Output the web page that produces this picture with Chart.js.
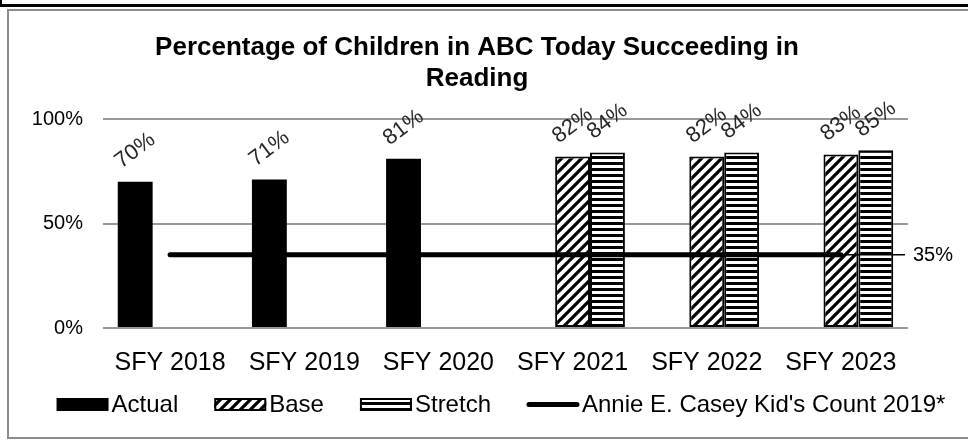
<!DOCTYPE html>
<html><head><meta charset="utf-8">
<script src="https://cdn.jsdelivr.net/npm/chart.js@4/dist/chart.umd.min.js"></script>
<style>
html,body{margin:0;padding:0;background:#fff;}
#wrap{position:relative;width:968px;height:441px;overflow:hidden;background:#fff;}
#hdr{position:absolute;left:0;top:-2px;width:980px;height:9px;border-left:2px solid #000;border-bottom:3px solid #000;box-sizing:border-box;}
#frame{position:absolute;left:7px;top:9px;width:990px;height:430px;border:2px solid #8c8c8c;box-sizing:border-box;}
#cv{position:absolute;left:0;top:0;}
</style></head>
<body>
<div id="wrap">
  <div id="hdr"></div>
  <div id="frame"></div>
  <canvas id="cv" width="968" height="441"></canvas>
</div>
<script>
// ---- data ----
const categories = ['SFY 2018', 'SFY 2019', 'SFY 2020', 'SFY 2021', 'SFY 2022', 'SFY 2023'];
const actualValues = [70, 71, 81, null, null, null];
const baseValues = [null, null, null, 82, 82, 83];
const stretchValues = [null, null, null, 84, 84, 85];
const benchmarkValues = [35, 35, 35, 35, 35, 35];
const yTickValues = [0, 50, 100];
const seriesNames = ['Actual', 'Base', 'Stretch', "Annie E. Casey Kid's Count 2019*"];
const titleLines = ['Percentage of Children in ABC Today Succeeding in', 'Reading'];

// ---- patterns ----
function diagPattern() {
  const s = 10, c = document.createElement('canvas');
  c.width = s; c.height = s;
  const g = c.getContext('2d');
  g.fillStyle = '#fff'; g.fillRect(0, 0, s, s);
  g.strokeStyle = '#000'; g.lineWidth = 3.2;
  g.beginPath();
  for (const k of [-s, 0, s]) { g.moveTo(k - 2, s + 2); g.lineTo(k + s + 2, -2); }
  g.stroke();
  return g.createPattern(c, 'repeat');
}
function horizPattern() {
  const c = document.createElement('canvas');
  c.width = 4; c.height = 6;
  const g = c.getContext('2d');
  g.fillStyle = '#fff'; g.fillRect(0, 0, 4, 6);
  g.fillStyle = '#000'; g.fillRect(0, 0, 4, 3);
  return g.createPattern(c, 'repeat');
}

const FONT = "'Liberation Sans', Arial, sans-serif";
const tickFontSize = 20;
const plotBox = { left: 103, right: 908, top: 119, bottom: 328 };

const labelPlugin = {
  id: 'barLabels',
  afterDatasetsDraw(chart) {
    const ctx = chart.ctx;
    chart.data.datasets.forEach((ds, i) => {
      if (ds.type === 'line') return;
      const meta = chart.getDatasetMeta(i);
      meta.data.forEach((el, j) => {
        const v = ds.data[j];
        if (v == null) return;
        ctx.save();
        ctx.translate(el.x, el.y - 31);
        ctx.rotate(-37 * Math.PI / 180);
        ctx.font = '22px ' + FONT;
        ctx.fillStyle = '#262626';
        ctx.textAlign = 'center';
        ctx.textBaseline = 'middle';
        ctx.fillText(v + '%', 0, 0);
        ctx.restore();
      });
    });
    const li = chart.data.datasets.findIndex(d => d.type === 'line');
    const lm = chart.getDatasetMeta(li);
    const last = lm.data[lm.data.length - 1];
    const ds = chart.data.datasets[li];
    ctx.save();
    ctx.strokeStyle = '#000'; ctx.lineWidth = 1.5;
    ctx.beginPath();
    ctx.moveTo(last.x, last.y); ctx.lineTo(chart.chartArea.right - 3, last.y);
    ctx.stroke();
    ctx.font = '20px ' + FONT;
    ctx.fillStyle = '#000';
    ctx.textAlign = 'left'; ctx.textBaseline = 'middle';
    ctx.fillText(ds.data[ds.data.length - 1] + '%', chart.chartArea.right + 5, last.y + 1);
    ctx.restore();
  }
};

const legendPlugin = {
  id: 'bottomLegend',
  afterDraw(chart) {
    const ctx = chart.ctx;
    const boxW = 52, boxH = 13, gap = 3, spacing = 36, cy = 404.5, centerX = 501;
    ctx.save();
    ctx.font = '24px ' + FONT;
    const items = chart.data.datasets.map(ds => ({ ds, tw: ctx.measureText(ds.label).width }));
    const total = items.reduce((s, it) => s + boxW + gap + it.tw, 0) + spacing * (items.length - 1);
    let x = centerX - total / 2;
    items.forEach(({ ds, tw }) => {
      if (ds.type === 'line') {
        ctx.strokeStyle = ds.borderColor; ctx.lineWidth = 5; ctx.lineCap = 'round';
        ctx.beginPath(); ctx.moveTo(x + 2, cy); ctx.lineTo(x + boxW - 2, cy); ctx.stroke();
      } else {
        ctx.fillStyle = ds.backgroundColor;
        ctx.fillRect(x, cy - boxH / 2, boxW, boxH);
        if (ds.borderWidth) {
          ctx.strokeStyle = '#000'; ctx.lineWidth = 2;
          ctx.strokeRect(x + 1, cy - boxH / 2 + 1, boxW - 2, boxH - 2);
        }
      }
      ctx.fillStyle = '#000'; ctx.textAlign = 'left'; ctx.textBaseline = 'middle';
      ctx.fillText(ds.label, x + boxW + gap, cy + 1);
      x += boxW + gap + tw + spacing;
    });
    ctx.restore();
  }
};

// layout: title centred between pad.left and (968 - pad.right)
const pad = { left: 0, right: 14, top: 0, bottom: 42 };
let yAxisW = 103, rightAxisW = 46, titleBottom = 25;

const chart = new Chart(document.getElementById('cv'), {
  data: {
    labels: categories,
    datasets: [
      { type: 'bar', label: seriesNames[0], data: actualValues, backgroundColor: '#000', borderWidth: 0, order: 1 },
      { type: 'bar', label: seriesNames[1], data: baseValues, backgroundColor: diagPattern(), borderColor: '#000', borderWidth: 2, borderSkipped: false, order: 1 },
      { type: 'bar', label: seriesNames[2], data: stretchValues, backgroundColor: horizPattern(), borderColor: '#000', borderWidth: 2, borderSkipped: false, order: 1 },
      { type: 'line', label: seriesNames[3], data: benchmarkValues, borderColor: '#000', backgroundColor: '#000', borderWidth: 5, borderCapStyle: 'round', pointRadius: 0, order: 0 }
    ]
  },
  options: {
    responsive: false,
    animation: false,
    events: [],
    datasets: { bar: { categoryPercentage: 0.78, barPercentage: 1.0 } },
    layout: { padding: { ...pad } },
    scales: {
      x: {
        grid: { display: false, drawTicks: false },
        border: { display: false },
        ticks: { font: { family: FONT, size: 25, lineHeight: 1.2 }, color: '#000', padding: 20, maxRotation: 0, autoSkip: false }
      },
      y: {
        min: 0, max: 100,
        afterBuildTicks(scale) { scale.ticks = yTickValues.map(v => ({ value: v })); },
        afterFit(scale) { scale.width = yAxisW; },
        grid: { color: '#999', lineWidth: 2, drawTicks: false },
        border: { display: false },
        ticks: { font: { family: FONT, size: tickFontSize }, color: '#000', padding: 20, callback: v => v + '%' }
      },
      yRight: {
        position: 'right', min: 0, max: 100,
        afterFit(scale) { scale.width = rightAxisW; },
        grid: { display: false, drawTicks: false },
        border: { display: false },
        ticks: { display: false }
      }
    },
    plugins: {
      tooltip: { enabled: false },
      legend: { display: false },
      title: {
        display: true, text: titleLines, color: '#000',
        font: { family: FONT, size: 26, weight: 'bold', lineHeight: 1.2 },
        padding: { top: 32, bottom: titleBottom }
      }
    }
  },
  plugins: [labelPlugin, legendPlugin]
});

// calibrate the plot area to the reference frame
for (let k = 0; k < 3; k++) {
  const a = chart.chartArea;
  yAxisW += plotBox.left - a.left;
  rightAxisW += a.right - plotBox.right;
  pad.bottom += a.bottom - plotBox.bottom;
  titleBottom += plotBox.top - a.top;
  chart.options.layout.padding = { ...pad };
  chart.options.plugins.title.padding = { top: 32, bottom: titleBottom };
  chart.update();
}
</script>
</body></html>
